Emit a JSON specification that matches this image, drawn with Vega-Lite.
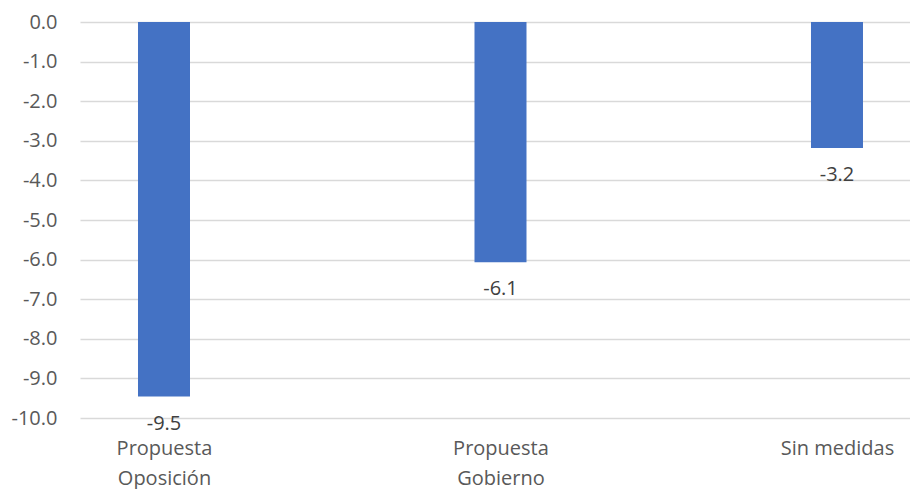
{
  "$schema": "https://vega.github.io/schema/vega-lite/v6.json",
  "autosize": "none",
  "width": 830,
  "height": 396,
  "padding": {"left": 80, "top": 22, "right": 0, "bottom": 71},
  "background": "white",
  "config": {
    "view": {"stroke": null},
    "font": "Open Sans"
  },
  "data": {
    "values": [
      {"categoria": "Propuesta Oposición", "valor": -9.46},
      {"categoria": "Propuesta Gobierno", "valor": -6.07},
      {"categoria": "Sin medidas", "valor": -3.18}
    ]
  },
  "transform": [
    {"calculate": "replace(format(datum.valor, '.1f'), '\u2212', '-')", "as": "etiqueta"}
  ],
  "encoding": {
    "x": {
      "field": "categoria",
      "type": "nominal",
      "sort": null,
      "scale": {"type": "point", "padding": 0.2333, "align": 0.535},
      "axis": {
        "title": null,
        "domain": false,
        "ticks": false,
        "labelAngle": 0,
        "labelFont": "Open Sans",
        "labelFontSize": 20,
        "labelColor": "#595959",
        "labelPadding": 20,
        "labelLineHeight": 30,
        "labelBaseline": "top",
        "labelOverlap": false,
        "labelExpr": "datum.label == 'Sin medidas' ? datum.label : split(datum.label, ' ')"
      }
    },
    "y": {
      "field": "valor",
      "type": "quantitative",
      "scale": {"domain": [-10, 0], "nice": false},
      "axis": {
        "title": null,
        "domain": false,
        "ticks": false,
        "values": [0, -1, -2, -3, -4, -5, -6, -7, -8, -9, -10],
        "labelExpr": "replace(format(datum.value, '.1f'), '\u2212', '-')",
        "labelOverlap": false,
        "labelFont": "Open Sans",
        "labelFontSize": 20,
        "labelColor": "#595959",
        "labelPadding": 23,
        "gridColor": "#D9D9D9",
        "gridWidth": 1.3
      }
    }
  },
  "layer": [
    {
      "mark": {"type": "bar", "size": 52, "color": "#4472C4"}
    },
    {
      "mark": {"type": "text", "baseline": "middle", "dy": 27, "fontSize": 20, "font": "Open Sans", "color": "#404040"},
      "encoding": {
        "text": {"field": "etiqueta", "type": "nominal"}
      }
    }
  ]
}
